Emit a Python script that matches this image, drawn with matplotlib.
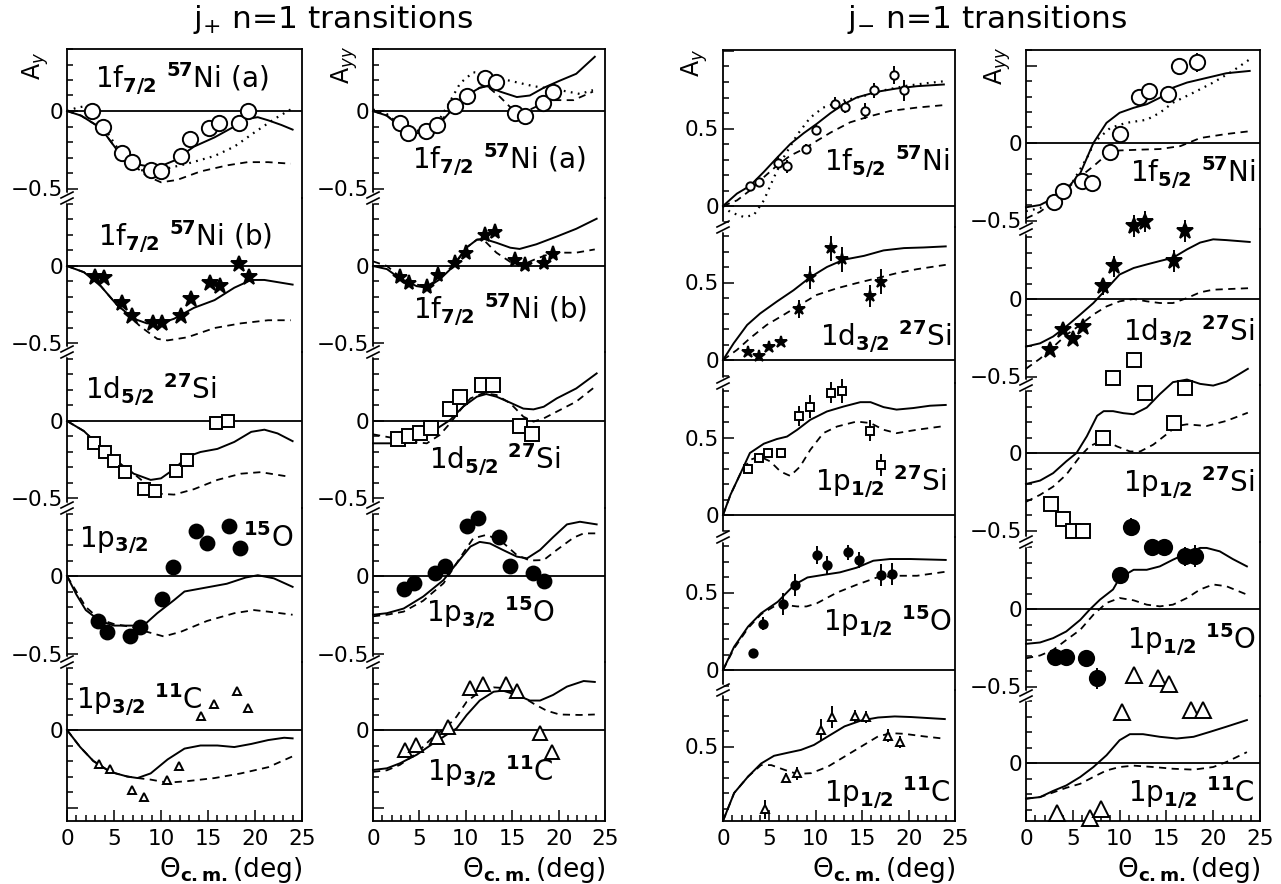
import numpy as np
import matplotlib.pyplot as plt
from matplotlib.lines import Line2D
from matplotlib.ticker import FixedLocator, MultipleLocator, FuncFormatter

plt.rcParams['font.family'] = 'DejaVu Sans'
plt.rcParams['mathtext.fontset'] = 'dejavusans'

# ---------------------------------------------------------------
# data: (theta_cm [deg], analysing power)
# column 1 : A_y, j+ ; column 2 : A_yy, j+
# column 3 : A_y, j- ; column 4 : A_yy, j-
# ---------------------------------------------------------------

# column 1, A_y j+
c1p1_pts = [(2.7, 0.0), (3.8, -0.10), (5.8, -0.27), (6.9, -0.33), (8.9, -0.38), (10.0, -0.39),
            (12.1, -0.29), (13.1, -0.18), (15.1, -0.11), (16.2, -0.08), (18.3, -0.075), (19.3, 0.0)]
c1p1_solid = [(0, 0), (1.5, -0.03), (3.6, -0.11), (5.3, -0.25), (7.1, -0.34), (8.9, -0.36), (10, -0.355),
              (11.4, -0.32), (13.5, -0.23), (15.7, -0.17), (17.8, -0.10), (19.2, -0.05), (20.3, -0.04),
              (21.4, -0.06), (22.8, -0.09), (24.0, -0.12)]
c1p1_dash = [(0, 0), (1.5, -0.03), (3.6, -0.11), (5.3, -0.25), (7.1, -0.35), (8.5, -0.42), (10, -0.46),
             (11.7, -0.445), (14.2, -0.39), (17.1, -0.35), (19.2, -0.33), (21.4, -0.33), (23.8, -0.34)]
c1p1_dot = [(0, 0), (1.0, 0.02), (1.8, 0.03), (2.8, 0.02), (4.3, -0.14), (5.7, -0.27), (7.8, -0.38),
            (9.3, -0.40), (10.7, -0.37), (12.8, -0.34), (15.7, -0.29), (17.8, -0.23), (19.9, -0.14),
            (22.1, -0.05), (23.8, 0.01)]

c1p2_pts = [(2.95, -0.07), (3.9, -0.08), (5.9, -0.24), (6.9, -0.32), (9.1, -0.37), (10.1, -0.37),
            (12.1, -0.32), (13.2, -0.21), (15.2, -0.11), (16.3, -0.13), (18.3, 0.01), (19.4, -0.07)]
c1p2_solid = [(0, 0), (1.8, -0.04), (3.6, -0.13), (5.3, -0.25), (7.1, -0.34), (8.5, -0.37), (10, -0.37),
              (11.4, -0.34), (13.5, -0.27), (15.7, -0.22), (17.8, -0.14), (19.6, -0.09), (21, -0.09),
              (24, -0.12)]
c1p2_dash = [(0, 0), (1.8, -0.04), (3.6, -0.13), (5.3, -0.25), (7.1, -0.35), (7.8, -0.39), (9.6, -0.47),
             (10.7, -0.48), (12.8, -0.46), (15.7, -0.40), (18.5, -0.37), (21.4, -0.35), (23.8, -0.35)]

c1p3_pts = [(2.85, -0.14), (4.0, -0.20), (5.0, -0.26), (6.2, -0.33), (8.2, -0.44), (9.4, -0.45),
            (11.6, -0.32), (12.8, -0.25), (15.9, -0.01), (17.1, 0.0)]
c1p3_solid = [(0, 0), (1.8, -0.065), (3.6, -0.17), (5.3, -0.26), (7.1, -0.34), (8.9, -0.38), (10, -0.37),
              (11.4, -0.31), (12.8, -0.23), (14.2, -0.20), (16, -0.18), (17.8, -0.135), (19.6, -0.07),
              (21, -0.056), (22.4, -0.08), (24, -0.13)]
c1p3_dash = [(0, 0), (1.8, -0.065), (3.6, -0.17), (5.3, -0.26), (7.1, -0.34), (8.5, -0.41), (10, -0.47),
             (11.4, -0.475), (13.5, -0.44), (16, -0.38), (18.5, -0.34), (20.6, -0.33), (23.7, -0.36)]

c1p4_pts = [(3.3, -0.29), (4.3, -0.36), (6.7, -0.39), (7.8, -0.33), (10.1, -0.15), (11.3, 0.06),
            (13.7, 0.29), (14.9, 0.21), (17.2, 0.32), (18.4, 0.18)]
c1p4_solid = [(0, 0), (1, -0.12), (2, -0.22), (3.5, -0.29), (5, -0.32), (7, -0.32), (8.5, -0.30),
              (9.6, -0.24), (11.4, -0.155), (12.5, -0.10), (14.3, -0.08), (17, -0.05), (19, -0.01),
              (20.3, 0.005), (22, -0.015), (24, -0.07)]
c1p4_dash = [(0, 0), (1, -0.10), (2, -0.20), (3.5, -0.28), (5, -0.31), (7, -0.33), (8.5, -0.36),
             (10.3, -0.39), (12.1, -0.36), (14.9, -0.29), (17.8, -0.24), (19.9, -0.22), (21.4, -0.23),
             (24, -0.25)]

c1p5_pts = [(3.4, -0.22), (4.6, -0.25), (6.9, -0.39), (8.2, -0.43), (10.6, -0.32), (11.9, -0.23),
            (14.3, 0.09), (15.6, 0.17), (18.1, 0.25), (19.3, 0.14)]
c1p5_solid = [(0, 0), (1.4, -0.11), (2.8, -0.20), (4.6, -0.27), (6.4, -0.30), (7.5, -0.31), (8.9, -0.28),
              (10.7, -0.19), (12.5, -0.12), (14.2, -0.10), (16, -0.10), (17.8, -0.11), (19.6, -0.09),
              (21.4, -0.065), (23.1, -0.05), (24, -0.054)]
c1p5_dash = [(0, 0), (1.4, -0.11), (2.8, -0.20), (4.6, -0.27), (6.4, -0.30), (7.5, -0.31), (8.9, -0.32),
             (10.7, -0.34), (12.8, -0.33), (15.7, -0.31), (18.5, -0.28), (21.4, -0.24), (24, -0.17)]

# column 2, A_yy j+
c2p1_pts = [(2.9, -0.08), (3.8, -0.14), (5.7, -0.13), (6.9, -0.09), (8.85, 0.03), (10.1, 0.10),
            (12.1, 0.21), (13.3, 0.19), (15.3, -0.01), (16.4, -0.03), (18.3, 0.05), (19.4, 0.12)]
c2p1_solid = [(0, 0), (1.5, -0.03), (2.9, -0.10), (4.4, -0.144), (5.8, -0.14), (7.2, -0.08), (8.7, 0.02),
              (10.1, 0.10), (11.5, 0.15), (12.3, 0.16), (13.7, 0.125), (15.5, 0.09), (16.9, 0.10),
              (18.4, 0.15), (20.1, 0.195), (21.9, 0.24), (23.9, 0.35)]
c2p1_dash = [(0, 0), (1.5, -0.03), (2.9, -0.10), (4.4, -0.14), (5.8, -0.13), (7.2, -0.07), (8.7, 0.03),
             (10.1, 0.10), (11.5, 0.15), (12.3, 0.16), (13.7, 0.09), (15.1, 0.006), (16.6, 0.0),
             (18, 0.04), (19.4, 0.07), (21.6, 0.07), (23.7, 0.125)]
c2p1_dot = [(0, 0.01), (1.5, -0.02), (2.9, -0.09), (4.4, -0.13), (5.8, -0.12), (7.2, -0.05), (8, 0.03),
            (9.4, 0.18), (10.8, 0.25), (12.3, 0.24), (14.4, 0.20), (17.3, 0.16), (20.1, 0.135),
            (22.3, 0.11), (23.7, 0.135)]

c2p2_pts = [(2.9, -0.07), (3.9, -0.11), (5.85, -0.135), (7.0, -0.06), (8.8, 0.02), (10.0, 0.086),
            (12.1, 0.20), (13.1, 0.22), (15.3, 0.037), (16.4, 0.004), (18.4, 0.017), (19.4, 0.075)]
c2p2_solid = [(0, 0), (1.5, -0.02), (2.9, -0.08), (4.7, -0.13), (5.8, -0.14), (7.2, -0.086), (8.7, 0),
              (10.1, 0.12), (11.2, 0.17), (11.9, 0.176), (13.3, 0.15), (14.8, 0.118), (15.8, 0.11),
              (17.6, 0.14), (19.8, 0.19), (21.9, 0.24), (24.1, 0.305)]
c2p2_dash = [(0, 0.03), (1.5, 0.0), (2.9, -0.07), (4.7, -0.12), (5.8, -0.13), (7.2, -0.08), (8.7, 0.01),
             (10.1, 0.12), (11.2, 0.17), (11.9, 0.17), (13.3, 0.086), (14.8, 0.026), (16.2, 0.01),
             (17.6, 0.047), (19.4, 0.086), (21.9, 0.086), (23.9, 0.107)]

c2p3_pts = [(2.7, -0.118), (3.9, -0.10), (5.1, -0.08), (6.3, -0.043), (8.3, 0.077), (9.4, 0.157),
            (11.7, 0.23), (12.9, 0.23), (15.8, -0.03), (17.1, -0.086)]
c2p3_solid = [(0, -0.144), (2.2, -0.144), (4, -0.127), (5.8, -0.09), (7.2, -0.037), (8.3, 0.006),
              (9.7, 0.092), (11.2, 0.157), (12.2, 0.174), (13.3, 0.157), (14.8, 0.118), (16.2, 0.08),
              (17.3, 0.075), (18.4, 0.092), (19.8, 0.146), (21.9, 0.21), (24.1, 0.307)]
c2p3_dash = [(0, -0.086), (2.2, -0.11), (4, -0.133), (5.8, -0.144), (7.2, -0.09), (8.3, -0.015),
             (9.4, 0.07), (10.5, 0.146), (11.9, 0.18), (13.3, 0.168), (14.8, 0.114), (16.2, 0.028),
             (17.3, -0.004), (18.4, 0.017), (20.5, 0.082), (21.9, 0.125), (23.9, 0.22)]

c2p4_pts = [(3.3, -0.084), (4.4, -0.043), (6.7, 0.02), (7.8, 0.065), (10.1, 0.325), (11.3, 0.376),
            (13.6, 0.254), (14.8, 0.067), (17.2, 0.017), (18.4, -0.03)]
c2p4_solid = [(0, -0.25), (1.5, -0.24), (3.3, -0.21), (5.4, -0.133), (7.6, -0.026), (9, 0.08),
              (10.5, 0.19), (11.5, 0.22), (12.6, 0.21), (14, 0.168), (15.5, 0.125), (16.6, 0.114),
              (18, 0.168), (19.4, 0.25), (20.9, 0.333), (22.3, 0.35), (24.1, 0.333)]
c2p4_dash = [(0, -0.26), (1.5, -0.25), (3.3, -0.23), (5.4, -0.16), (7.6, -0.047), (8.3, 0.017),
             (9.7, 0.146), (10.8, 0.243), (12.2, 0.265), (13.7, 0.232), (15.5, 0.135), (16.9, 0.10),
             (18.4, 0.103), (19.8, 0.168), (21.6, 0.247), (22.7, 0.275), (24.1, 0.275)]

c2p5_pts = [(3.4, -0.13), (4.6, -0.097), (6.9, -0.043), (8.1, 0.02), (10.5, 0.27), (11.8, 0.30),
            (14.3, 0.30), (15.5, 0.254), (18.0, -0.02), (19.3, -0.14)]
c2p5_solid = [(0, -0.258), (1.5, -0.247), (2.9, -0.215), (4.7, -0.16), (6.5, -0.086), (7.9, -0.032),
              (9, 0.01), (10.1, 0.097), (11.5, 0.19), (13, 0.247), (14, 0.254), (15.5, 0.226),
              (16.9, 0.19), (18, 0.19), (19.4, 0.226), (20.9, 0.28), (22.7, 0.316), (23.9, 0.31)]
c2p5_dash = [(0, -0.27), (1.5, -0.26), (2.9, -0.225), (4.7, -0.15), (6.5, -0.043), (7.9, 0.017),
             (9, 0.086), (10.1, 0.183), (11.5, 0.247), (13, 0.275), (14.4, 0.27), (15.8, 0.226),
             (17.3, 0.17), (18.7, 0.125), (20.1, 0.10), (22.3, 0.097), (23.9, 0.10)]

# column 3, A_y j-
c3p1_pts = [(2.9, 0.13), (3.85, 0.155), (5.9, 0.28), (6.9, 0.256), (8.9, 0.368), (10.0, 0.49),
            (12.1, 0.66), (13.2, 0.64), (15.3, 0.613), (16.3, 0.746), (18.4, 0.844), (19.5, 0.746)]
c3p1_err = [0.02, 0.02, 0.04, 0.04, 0.03, 0.03, 0.04, 0.04, 0.05, 0.05, 0.06, 0.07]
c3p1_solid = [(0, 0), (1.5, 0.08), (2.9, 0.13), (4.4, 0.22), (5.8, 0.31), (7.25, 0.40), (8.7, 0.47),
              (10.1, 0.53), (11.6, 0.60), (13, 0.656), (14.4, 0.70), (16.6, 0.737), (18.7, 0.758),
              (20.9, 0.773), (23.8, 0.784)]
c3p1_dash = [(0, 0), (1.5, 0.036), (2.9, 0.10), (4.4, 0.186), (5.8, 0.26), (7.25, 0.325), (8.7, 0.368),
             (10.1, 0.42), (11.6, 0.474), (13.7, 0.54), (15.9, 0.58), (18, 0.613), (20.9, 0.635),
             (24, 0.652)]
c3p1_dot = [(0, 0), (0.8, -0.04), (2.2, -0.07), (3.3, -0.06), (4.4, 0.036), (5.5, 0.186), (6.5, 0.31),
            (8, 0.46), (9.4, 0.57), (10.8, 0.635), (13, 0.68), (15.2, 0.71), (17.3, 0.746),
            (19.5, 0.773), (21.6, 0.79), (24, 0.806)]

c3p2_pts = [(2.7, 0.05), (3.9, 0.028), (5.0, 0.086), (6.2, 0.114), (8.15, 0.328), (9.4, 0.534),
            (11.6, 0.72), (12.8, 0.65), (15.8, 0.414), (17.0, 0.506)]
c3p2_err = [0, 0, 0, 0, 0.06, 0.075, 0.08, 0.08, 0.07, 0.08]
c3p2_solid = [(0, 0), (1.15, 0.108), (2.6, 0.226), (4, 0.30), (5.8, 0.377), (7.6, 0.45), (9.4, 0.534),
              (11.2, 0.60), (13, 0.647), (15.2, 0.672), (17.3, 0.707), (19.5, 0.722), (21.6, 0.726),
              (24, 0.733)]
c3p2_dash = [(0, 0), (1.5, 0.065), (2.9, 0.14), (4.7, 0.226), (6.5, 0.29), (8.3, 0.356), (10.1, 0.42),
             (12.3, 0.463), (14.4, 0.496), (16.6, 0.528), (18.7, 0.56), (20.9, 0.586), (24, 0.614)]

c3p3_pts = [(2.66, 0.30), (3.9, 0.37), (4.9, 0.40), (6.2, 0.40), (8.15, 0.64), (9.4, 0.70),
            (11.6, 0.79), (12.8, 0.80), (15.8, 0.545), (17.0, 0.323)]
c3p3_err = [0.02, 0.02, 0.03, 0.03, 0.065, 0.075, 0.07, 0.075, 0.07, 0.07]
c3p3_solid = [(0, 0), (0.8, 0.13), (1.9, 0.27), (2.9, 0.40), (4.4, 0.46), (5.8, 0.49), (6.9, 0.506),
              (8, 0.55), (9.4, 0.614), (11.2, 0.668), (13, 0.70), (14.8, 0.728), (15.9, 0.728),
              (17.3, 0.696), (18.7, 0.68), (20.5, 0.69), (22.3, 0.705), (24, 0.71)]
c3p3_dash = [(0, 0), (0.8, 0.13), (1.9, 0.27), (2.9, 0.356), (4, 0.377), (5.1, 0.345), (6.2, 0.28),
             (7.25, 0.252), (8.3, 0.312), (9.4, 0.42), (10.8, 0.528), (12.3, 0.571), (14.4, 0.603),
             (15.9, 0.593), (17.3, 0.55), (18.7, 0.528), (20.9, 0.55), (24, 0.575)]

c3p4_pts = [(3.2, 0.112), (4.3, 0.30), (6.5, 0.425), (7.8, 0.548), (10.1, 0.743), (11.2, 0.677),
            (13.5, 0.759), (14.7, 0.711), (17.0, 0.612), (18.2, 0.618)]
c3p4_err = [0.02, 0.04, 0.07, 0.07, 0.06, 0.06, 0.05, 0.05, 0.07, 0.07]
c3p4_solid = [(0, 0), (1.2, 0.15), (2.7, 0.28), (4.1, 0.366), (5.9, 0.44), (7.7, 0.55), (9.1, 0.597),
              (10.85, 0.614), (12.6, 0.63), (14.4, 0.66), (16.2, 0.705), (18, 0.716), (20.2, 0.716),
              (24, 0.71)]
c3p4_dash = [(0, 0), (1.2, 0.14), (2.7, 0.27), (4.1, 0.36), (5.5, 0.41), (6.6, 0.42), (8, 0.41),
             (9, 0.41), (10.1, 0.43), (12.3, 0.50), (14.4, 0.55), (16.6, 0.597), (18.7, 0.608),
             (20.9, 0.608), (24, 0.634)]

c3p5_pts = [(4.5, 0.095), (6.8, 0.30), (8.0, 0.326), (10.6, 0.608), (11.7, 0.69), (14.2, 0.694),
            (15.4, 0.69), (17.8, 0.57), (19.1, 0.53)]
c3p5_err = [0.06, 0.03, 0.04, 0.07, 0.07, 0.04, 0.04, 0.04, 0.04]
c3p5_solid = [(0, 0.02), (1.2, 0.20), (2.7, 0.306), (4.1, 0.39), (5.5, 0.44), (7, 0.46), (8.4, 0.478),
              (9.8, 0.51), (11.3, 0.565), (13.1, 0.63), (14.9, 0.668), (16.7, 0.687), (18.5, 0.694),
              (20.3, 0.69), (23.9, 0.677)]
c3p5_dash = [(0, 0.02), (1.2, 0.20), (2.7, 0.306), (4.1, 0.38), (5.2, 0.38), (6.6, 0.35), (8, 0.323),
             (9.5, 0.328), (11.3, 0.37), (13.1, 0.435), (14.9, 0.50), (16.7, 0.565), (18.1, 0.586),
             (19.5, 0.582), (21.7, 0.565), (23.9, 0.55)]

# column 4, A_yy j-
c4p1_pts = [(3.0, -0.38), (4.0, -0.31), (6.0, -0.245), (7.0, -0.255), (9.0, -0.06), (10.0, 0.058),
            (12.1, 0.30), (13.1, 0.335), (15.2, 0.314), (16.3, 0.50), (18.3, 0.52)]
c4p1_err = [0, 0, 0, 0, 0, 0, 0, 0, 0, 0, 0.06]
c4p1_solid = [(0, -0.415), (1.5, -0.40), (2.9, -0.357), (4.3, -0.30), (5.8, -0.195), (7.2, 0.0),
              (8.6, 0.13), (10, 0.195), (11.5, 0.227), (12.9, 0.25), (14.3, 0.292), (15.7, 0.357),
              (17.2, 0.39), (19.3, 0.42), (21.4, 0.45), (23.9, 0.465)]
c4p1_dash = [(0, -0.487), (1.5, -0.444), (2.9, -0.38), (4.3, -0.30), (5.8, -0.216), (7.2, -0.15),
             (8.6, -0.076), (10, -0.048), (12.2, -0.043), (14.3, -0.039), (16.5, -0.02), (18.6, 0.032),
             (21.4, 0.058), (23.9, 0.076)]
c4p1_dot = [(0, -0.44), (1.5, -0.42), (2.9, -0.37), (5, -0.25), (6.8, -0.065), (7.2, 0.0), (9, 0.097),
            (10.7, 0.13), (12.9, 0.15), (14.3, 0.195), (15.7, 0.26), (17.9, 0.325), (20, 0.39),
            (22.1, 0.465), (23.9, 0.54)]

c4p2_pts = [(2.6, -0.33), (4.0, -0.20), (5.0, -0.26), (6.1, -0.18), (8.2, 0.082), (9.4, 0.21),
            (11.5, 0.47), (12.7, 0.50), (15.8, 0.245), (17.0, 0.44)]
c4p2_err = [0, 0, 0, 0, 0.055, 0.07, 0.07, 0.07, 0.07, 0.07]
c4p2_solid = [(0, -0.307), (1.5, -0.286), (2.9, -0.242), (4.3, -0.177), (5.8, -0.10), (7.2, -0.026),
              (8.6, 0.065), (10, 0.158), (11.5, 0.20), (12.9, 0.223), (14.3, 0.245), (15.7, 0.266),
              (17.2, 0.32), (18.6, 0.364), (20, 0.385), (21.4, 0.38), (23.9, 0.368)]
c4p2_dash = [(0, -0.45), (1.5, -0.385), (2.9, -0.31), (4.3, -0.232), (5.8, -0.167), (7.2, -0.10),
             (8.6, -0.048), (10, -0.015), (11.5, 0.0), (12.9, -0.015), (14.3, -0.026), (15.7, -0.026),
             (17.2, 0.006), (18.6, 0.043), (20, 0.06), (23.9, 0.07)]

c4p3_pts = [(2.7, -0.326), (3.9, -0.424), (5.0, -0.50), (6.1, -0.504), (8.2, 0.098), (9.3, 0.485),
            (11.5, 0.60), (12.7, 0.39), (15.8, 0.196), (17.0, 0.42)]
c4p3_err = [0, 0, 0, 0, 0.04, 0.04, 0.04, 0.05, 0.04, 0.05]
c4p3_solid = [(0, -0.20), (1.5, -0.178), (2.9, -0.13), (4.3, -0.054), (5.4, 0.0), (6.5, 0.108),
              (7.6, 0.24), (8.3, 0.27), (9.3, 0.27), (10.4, 0.257), (11.5, 0.25), (12.9, 0.293),
              (14.3, 0.38), (15.7, 0.457), (17.2, 0.474), (18.6, 0.446), (20, 0.435), (21.4, 0.46),
              (22.8, 0.51), (23.7, 0.543)]
c4p3_dash = [(0, -0.315), (1.5, -0.27), (2.9, -0.217), (4.3, -0.14), (5.8, -0.02), (6.8, 0.043),
             (8.3, 0.087), (9.7, 0.043), (11.1, 0.01), (12.2, 0.01), (13.6, 0.054), (15, 0.12),
             (16.1, 0.174), (17.2, 0.185), (19.3, 0.174), (21.4, 0.207), (23.7, 0.26)]

c4p4_pts = [(3.1, -0.307), (4.3, -0.31), (6.4, -0.318), (7.6, -0.448), (10.0, 0.217), (11.2, 0.53),
            (13.5, 0.40), (14.7, 0.40), (17.0, 0.34), (18.1, 0.34)]
c4p4_err = [0.02, 0.02, 0.05, 0.07, 0.05, 0.06, 0.03, 0.03, 0.06, 0.07]
c4p4_solid = [(0, -0.225), (1.5, -0.216), (2.9, -0.188), (4.3, -0.145), (5.8, -0.07), (6.8, -0.004),
              (7.9, 0.06), (9.3, 0.126), (10, 0.20), (11.5, 0.253), (12.9, 0.253), (14.3, 0.275),
              (15.7, 0.318), (17.2, 0.36), (18.6, 0.394), (19.3, 0.394), (20.7, 0.372), (22.1, 0.322),
              (23.6, 0.275)]
c4p4_dash = [(0, -0.318), (1.5, -0.30), (2.9, -0.264), (4.3, -0.20), (5.8, -0.134), (7.2, -0.037),
             (8.6, 0.039), (10, 0.071), (11.5, 0.056), (12.9, 0.028), (14.3, 0.017), (15.7, 0.028),
             (17.2, 0.071), (18.6, 0.126), (20, 0.158), (21.4, 0.147), (23.6, 0.093)]

c4p5_pts = [(3.3, -0.322), (6.8, -0.355), (8.0, -0.297), (10.3, 0.33), (11.5, 0.57), (14.1, 0.548),
            (15.3, 0.51), (17.6, 0.342), (18.9, 0.342)]
c4p5_err = [0.04, 0.03, 0.02, 0, 0, 0, 0, 0, 0]
c4p5_solid = [(0, -0.23), (1.5, -0.22), (2.9, -0.18), (4.3, -0.145), (5.8, -0.09), (7.2, -0.026),
              (8.6, 0.05), (10, 0.147), (11.1, 0.186), (12.5, 0.186), (14.3, 0.169), (16.1, 0.158),
              (17.9, 0.169), (19.6, 0.20), (21.4, 0.234), (23.6, 0.277)]
c4p5_dash = [(0, -0.23), (1.5, -0.22), (2.9, -0.19), (4.3, -0.16), (5.8, -0.134), (7.2, -0.09),
             (8.6, -0.048), (10, -0.026), (11.5, -0.017), (13.6, -0.026), (15.7, -0.037), (17.9, -0.043),
             (20, -0.026), (21.4, 0.006), (23.6, 0.07)]

# panel captions (text only)
lbl_f72a = r'1f$_{\mathbf{7/2}}$ $^{\mathbf{57}}$Ni (a)'
lbl_f72b = r'1f$_{\mathbf{7/2}}$ $^{\mathbf{57}}$Ni (b)'
lbl_d52 = r'1d$_{\mathbf{5/2}}$ $^{\mathbf{27}}$Si'
lbl_p32o = r'1p$_{\mathbf{3/2}}$ $^{\mathbf{15}}$O'
lbl_p32c = r'1p$_{\mathbf{3/2}}$ $^{\mathbf{11}}$C'
lbl_f52 = r'1f$_{\mathbf{5/2}}$ $^{\mathbf{57}}$Ni'
lbl_d32 = r'1d$_{\mathbf{3/2}}$ $^{\mathbf{27}}$Si'
lbl_p12si = r'1p$_{\mathbf{1/2}}$ $^{\mathbf{27}}$Si'
lbl_p12o = r'1p$_{\mathbf{1/2}}$ $^{\mathbf{15}}$O'
lbl_p12c = r'1p$_{\mathbf{1/2}}$ $^{\mathbf{11}}$C'

# ---------------------------------------------------------------
# layout (in pixels of the 1281 x 884 picture)
# ---------------------------------------------------------------
W, H = 1281, 884
SCALE = 155.0   # pixels per unit of A

col_x = [(67, 302), (373, 605), (723, 955), (1026, 1260)]
col_zero = [[111, 266, 421, 576, 730], [111, 266, 421, 576, 730],
            [206, 360, 515, 670, 824], [143, 299, 453, 609, 763]]
col_edges = [[49, 198, 352, 508, 662, 821], [49, 198, 352, 508, 662, 821],
             [50, 227, 383, 537, 690, 821], [50, 229, 385, 542, 696, 821]]
col_ticklabels = [[0, -0.5], [0, -0.5], [0, 0.5], [0, -0.5]]
col_ylabel = [(r'A$_y$', 36, 66), (r'A$_{yy}$', 345, 65), (r'A$_y$', 695, 63), (r'A$_{yy}$', 998, 66)]

# marker styles per column / panel: (marker, filled, size)
col_markers = [
    [('o', False, 11), ('*', True, 12), ('s', False, 9), ('o', True, 10), ('^', False, 6)],
    [('o', False, 11), ('*', True, 11), ('s', False, 10), ('o', True, 10), ('^', False, 10)],
    [('o', False, 6), ('*', True, 9), ('s', False, 6), ('o', True, 6), ('^', False, 6)],
    [('o', False, 11), ('*', True, 12), ('s', False, 10), ('o', True, 11), ('^', False, 11)],
]

panels = [
    [dict(pts=c1p1_pts, solid=c1p1_solid, dash=c1p1_dash, dot=c1p1_dot),
     dict(pts=c1p2_pts, solid=c1p2_solid, dash=c1p2_dash),
     dict(pts=c1p3_pts, solid=c1p3_solid, dash=c1p3_dash),
     dict(pts=c1p4_pts, solid=c1p4_solid, dash=c1p4_dash),
     dict(pts=c1p5_pts, solid=c1p5_solid, dash=c1p5_dash)],
    [dict(pts=c2p1_pts, solid=c2p1_solid, dash=c2p1_dash, dot=c2p1_dot),
     dict(pts=c2p2_pts, solid=c2p2_solid, dash=c2p2_dash),
     dict(pts=c2p3_pts, solid=c2p3_solid, dash=c2p3_dash),
     dict(pts=c2p4_pts, solid=c2p4_solid, dash=c2p4_dash),
     dict(pts=c2p5_pts, solid=c2p5_solid, dash=c2p5_dash)],
    [dict(pts=c3p1_pts, err=c3p1_err, solid=c3p1_solid, dash=c3p1_dash, dot=c3p1_dot),
     dict(pts=c3p2_pts, err=c3p2_err, solid=c3p2_solid, dash=c3p2_dash),
     dict(pts=c3p3_pts, err=c3p3_err, solid=c3p3_solid, dash=c3p3_dash),
     dict(pts=c3p4_pts, err=c3p4_err, solid=c3p4_solid, dash=c3p4_dash),
     dict(pts=c3p5_pts, err=c3p5_err, solid=c3p5_solid, dash=c3p5_dash)],
    [dict(pts=c4p1_pts, err=c4p1_err, solid=c4p1_solid, dash=c4p1_dash, dot=c4p1_dot),
     dict(pts=c4p2_pts, err=c4p2_err, solid=c4p2_solid, dash=c4p2_dash),
     dict(pts=c4p3_pts, err=c4p3_err, solid=c4p3_solid, dash=c4p3_dash),
     dict(pts=c4p4_pts, err=c4p4_err, solid=c4p4_solid, dash=c4p4_dash),
     dict(pts=c4p5_pts, err=c4p5_err, solid=c4p5_solid, dash=c4p5_dash)],
]

# caption text with position of its centre (x) and baseline (y), in pixels
captions = [
    (lbl_f72a, 182, 88), (lbl_f72b, 185, 246), (lbl_d52, 151, 399),
    (r'1p$_{\mathbf{3/2}}$', 114, 547), (r'$^{\mathbf{15}}$O', 268, 547), (lbl_p32c, 139, 709),
    (lbl_f72a, 499, 169), (lbl_f72b, 500, 319), (lbl_d52, 495, 469), (lbl_p32o, 490, 622),
    (lbl_p32c, 490, 781),
    (lbl_f52, 887, 171), (lbl_d32, 886, 346), (lbl_p12si, 881, 491), (lbl_p12o, 887, 631),
    (lbl_p12c, 887, 802),
    (lbl_f52, 1193, 182), (lbl_d32, 1189, 341), (lbl_p12si, 1189, 492), (lbl_p12o, 1191, 649),
    (lbl_p12c, 1191, 802),
]


def xy(pairs):
    a = np.array(pairs, dtype=float)
    return a[:, 0], a[:, 1]


def fx(px):
    return px / W


def fy(py):
    return 1 - py / H


def make_fmt(labels):
    def f(v, pos):
        for t in labels:
            if abs(v - t) < 1e-6:
                return '0' if t == 0 else ('%g' % t).replace('-', '\u2212')
        return ''
    return FuncFormatter(f)


fig = plt.figure(figsize=(W / 100, H / 100), dpi=100)

for ci in range(4):
    x0, x1 = col_x[ci]
    edges = col_edges[ci]
    for pi in range(5):
        top, bot = edges[pi], edges[pi + 1]
        zero = col_zero[ci][pi]
        ax = fig.add_axes([fx(x0), fy(bot), (x1 - x0) / W, (bot - top) / H])
        ax.set_facecolor('none')
        ax.set_xlim(0, 25)
        ax.set_ylim((zero - bot) / SCALE, (zero - top) / SCALE)
        for s in ax.spines.values():
            s.set_linewidth(1.3)
        ax.spines['top'].set_visible(pi == 0)
        ax.spines['bottom'].set_visible(pi == 4)

        labels = col_ticklabels[ci] if pi < 4 else [0, 0.5]
        ax.yaxis.set_major_locator(FixedLocator([-0.5, 0.0, 0.5, 1.0]))
        ax.yaxis.set_minor_locator(MultipleLocator(0.1))
        ax.yaxis.set_major_formatter(make_fmt(labels))
        ax.tick_params(axis='y', which='both', direction='in', left=True, right=False,
                       labelsize=15.5, pad=3, width=1.1)
        ax.tick_params(axis='y', which='major', length=8)
        ax.tick_params(axis='y', which='minor', length=4.5)
        if pi == 4:
            ax.xaxis.set_major_locator(MultipleLocator(5))
            ax.xaxis.set_minor_locator(MultipleLocator(1))
            ax.tick_params(axis='x', which='both', direction='in', top=False,
                           labelsize=15.5, pad=6, width=1.1)
            ax.tick_params(axis='x', which='major', length=8)
            ax.tick_params(axis='x', which='minor', length=4.5)
        else:
            ax.tick_params(axis='x', which='both', bottom=False, top=False, labelbottom=False)

        ax.axhline(0, color='k', lw=1.3)

        p = panels[ci][pi]
        x, y = xy(p['solid'])
        ax.plot(x, y, color='k', lw=1.4, clip_on=False)
        x, y = xy(p['dash'])
        ax.plot(x, y, color='k', lw=1.3, ls=(0, (4, 3)), clip_on=False)
        if 'dot' in p:
            x, y = xy(p['dot'])
            ax.plot(x, y, color='k', lw=1.6, ls=(0, (0.8, 2.4)), clip_on=False)

        x, y = xy(p['pts'])
        if 'err' in p:
            e = np.array(p['err'])
            m = e > 0
            ax.vlines(x[m], y[m] - e[m], y[m] + e[m], colors='k', lw=1.4, clip_on=False)
        mk, filled, ms = col_markers[ci][pi]
        ax.plot(x, y, ls='none', marker=mk, ms=ms, mec='k', mew=1.4,
                mfc='k' if filled else 'white', clip_on=False, zorder=5)

    # axis break marks on the left spine
    for yb in edges[1:5]:
        fig.add_artist(Line2D([fx(x0 - 1), fx(x0 + 1)], [fy(yb - 3), fy(yb + 3)],
                              transform=fig.transFigure, color='white', lw=3))
        for dy in (-3, 3):
            fig.add_artist(Line2D([fx(x0 - 6), fx(x0 + 6)], [fy(yb + dy + 3), fy(yb + dy - 3)],
                                  transform=fig.transFigure, color='k', lw=1.2))

    lab, lx, ly = col_ylabel[ci]
    fig.text(fx(lx), fy(ly), lab, rotation=90, ha='center', va='center', fontsize=17)
    fig.text(fx(x1), fy(877), r'$\Theta_{\mathbf{c.m.}}$(deg)', ha='right', va='baseline', fontsize=19)

for txt, cx, by in captions:
    fig.text(fx(cx), fy(by), txt, ha='center', va='baseline', fontsize=20)

fig.text(fx(333), fy(20), r'j$_{+}$ n=1 transitions', ha='center', va='center', fontsize=22.5)
fig.text(fx(987), fy(20), r'j$_{-}$ n=1 transitions', ha='center', va='center', fontsize=22.5)

fig.savefig('out.png', dpi=100)
